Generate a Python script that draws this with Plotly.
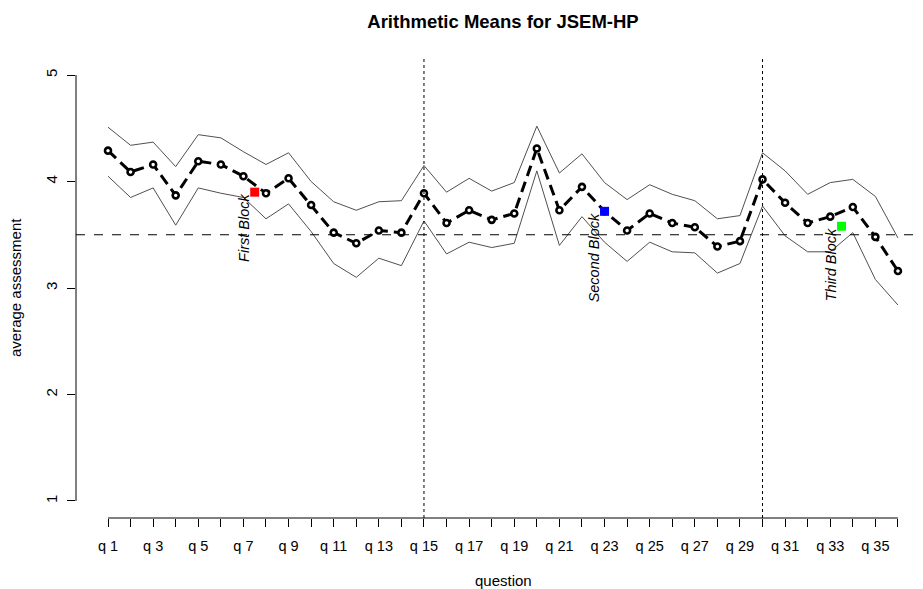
import plotly.graph_objects as go

questions = list(range(1, 37))
tick_labels = [f"q {i}" if i % 2 == 1 else "" for i in questions]

means = [4.29, 4.09, 4.16, 3.87, 4.19, 4.16, 4.05, 3.89, 4.03, 3.78,
         3.52, 3.42, 3.54, 3.52, 3.89, 3.61, 3.73, 3.64, 3.70, 4.31,
         3.73, 3.95, 3.72, 3.54, 3.70, 3.61, 3.57, 3.39, 3.44, 4.02,
         3.80, 3.61, 3.67, 3.76, 3.48, 3.16]
upper = [4.51, 4.34, 4.37, 4.14, 4.44, 4.41, 4.28, 4.16, 4.27, 4.00,
         3.81, 3.73, 3.81, 3.82, 4.15, 3.90, 4.03, 3.91, 3.99, 4.52,
         4.08, 4.26, 3.99, 3.83, 3.97, 3.88, 3.82, 3.65, 3.68, 4.27,
         4.10, 3.88, 3.99, 4.02, 3.86, 3.47]
lower = [4.05, 3.85, 3.94, 3.59, 3.94, 3.89, 3.85, 3.65, 3.79, 3.53,
         3.23, 3.10, 3.28, 3.21, 3.63, 3.32, 3.43, 3.38, 3.42, 4.10,
         3.40, 3.67, 3.43, 3.25, 3.43, 3.34, 3.33, 3.14, 3.23, 3.77,
         3.49, 3.34, 3.34, 3.52, 3.08, 2.84]

block_names = ["First Block", "Second Block", "Third Block"]
block_x = [7.5, 23, 33.5]
block_y = [3.90, 3.72, 3.58]
block_colors = ["#FF0000", "#0000FF", "#00FF00"]
block_bounds = [15, 30]
ref_level = 3.5

FONT = "Liberation Sans, Arial, Helvetica"
OFF = 8  # browser default body margin
W, H = 923 - OFF, 589 - OFF
L, T = 76 - OFF, 58 - OFF
BOTTOM = 518 - OFF
B = H - BOTTOM
PW = W - L
PH = BOTTOM - T
PX_PER_Q = 22.57

fig = go.Figure()
fig.add_trace(go.Scatter(x=questions, y=upper, mode="lines",
                         line=dict(color="#505050", width=1), showlegend=False, hoverinfo="skip"))
fig.add_trace(go.Scatter(x=questions, y=lower, mode="lines",
                         line=dict(color="#505050", width=1), showlegend=False, hoverinfo="skip"))
fig.add_trace(go.Scatter(x=questions, y=means, mode="lines+markers",
                         line=dict(color="black", width=3, dash="11px,6px"),
                         marker=dict(symbol="circle", size=6, color="white",
                                     line=dict(color="black", width=2.6)),
                         showlegend=False))
fig.add_trace(go.Scatter(x=block_x, y=block_y, mode="markers",
                         marker=dict(symbol="square", size=9, color=block_colors),
                         showlegend=False))

for name, bx, by in zip(block_names, block_x, block_y):
    fig.add_annotation(x=bx, y=by, text=f"<i>{name}</i>", textangle=-90,
                       showarrow=False, xanchor="right", yanchor="top", xshift=-1,
                       font=dict(family=FONT, size=14.5, color="black"))

for bx in block_bounds:
    fig.add_shape(type="line", xref="x", yref="paper", x0=bx, x1=bx, y0=0, y1=1,
                  line=dict(color="black", width=1, dash="dot"))
fig.add_shape(type="line", xref="paper", yref="y", x0=0, x1=1, y0=ref_level, y1=ref_level,
              line=dict(color="black", width=1, dash="dash"))
# axis lines spanning the tick range only
fig.add_shape(type="line", xref="x", yref="paper", x0=questions[0], x1=questions[-1], y0=0, y1=0,
              line=dict(color="black", width=1))
fig.add_shape(type="line", xref="paper", yref="y", x0=0, x1=0, y0=1, y1=5,
              line=dict(color="black", width=1))

fig.add_annotation(xref="paper", yref="paper", x=(15 - OFF - L) / PW, y=0.5,
                   text="average assessment", textangle=-90, showarrow=False,
                   xanchor="center", yanchor="middle",
                   font=dict(family=FONT, size=15, color="black"))
fig.add_annotation(xref="paper", yref="paper", x=(503 - OFF - L) / PW,
                   y=(BOTTOM - (580 - OFF)) / PH,
                   text="question", showarrow=False, xanchor="center", yanchor="middle",
                   font=dict(family=FONT, size=15, color="black"))

x0 = 1 - (108 - 76) / PX_PER_Q
fig.update_layout(
    width=W, height=H,
    margin=dict(l=L, r=0, t=T, b=B, autoexpand=False),
    paper_bgcolor="white", plot_bgcolor="white",
    font=dict(family=FONT, size=14, color="black"),
    title=dict(text="<b>Arithmetic Means for JSEM-HP</b>", x=(503 - OFF) / W, xref="container",
               y=1 - (22 - OFF) / H, yref="container", xanchor="center", yanchor="middle",
               font=dict(size=18.5, color="black")),
    xaxis=dict(range=[x0, x0 + PW / PX_PER_Q],
               tickvals=questions, ticktext=tick_labels, ticks="outside", ticklen=8,
               tickcolor="black", showgrid=False, zeroline=False, showline=False,
               ticklabelstandoff=7, tickfont=dict(size=14.5), automargin=False),
    yaxis=dict(range=[0.84, 5.16], tickvals=[1, 2, 3, 4, 5], tickangle=-90,
               ticks="outside", ticklen=8, tickcolor="black", showgrid=False,
               zeroline=False, showline=False, ticklabelstandoff=4,
               tickfont=dict(size=15), automargin=False),
)

fig.write_html("out.html")
